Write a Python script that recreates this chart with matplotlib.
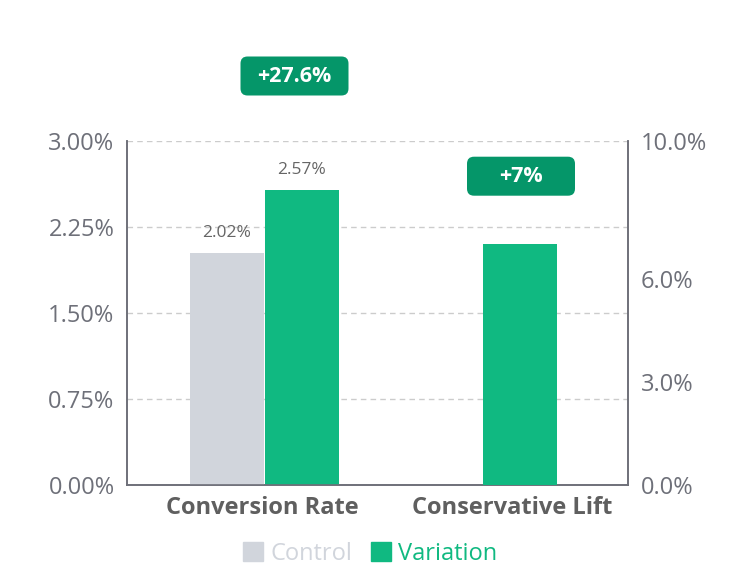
import numpy as np
import matplotlib.pyplot as plt
from matplotlib.patches import FancyBboxPatch, Patch

categories = ["Conversion Rate", "Conservative Lift"]
control = [2.02, 0.0]      # left axis, %
variation = [2.57, 0.0]    # left axis, %
lift = [0.0, 7.0]          # right axis, %
badges = ["+27.6%", "+7%"]
left_ticks = [0, 0.75, 1.5, 2.25, 3.0]
right_ticks = [0, 3, 6, 10]

c_control = "#D1D5DC"
c_var = "#10B981"
c_badge = "#059669"
c_axis = "#6E7079"

plt.rcParams["font.family"] = ["Open Sans", "DejaVu Sans"]

fig = plt.figure(figsize=(7.54, 5.78), dpi=100)
ax = fig.add_axes([127 / 754, 93 / 578, 501 / 754, 344 / 578])
ax2 = ax.twinx()

x = np.arange(len(categories))
w = 0.296
b1 = ax.bar(x - 0.14, control, w, color=c_control, zorder=3)
b2 = ax.bar(x + 0.16, variation, w, color=c_var, zorder=3)
b3 = ax2.bar(x + 0.032, lift, w, color=c_var, zorder=3)

ax.set_xlim(-0.54, 1.464)
ax.set_ylim(0, 3)
ax2.set_ylim(0, 10)

# value labels only on the conversion-rate bars
for bars in (b1, b2):
    r = bars[0]
    ax.annotate(f"{r.get_height():.2f}%", (r.get_x() + r.get_width() / 2, r.get_height()),
                xytext=(0, 9), textcoords="offset points", ha="center", va="bottom",
                fontsize=12.5, color="#666666")

ax.set_yticks(left_ticks)
ax.set_yticklabels([f"{t:.2f}%" for t in left_ticks], fontsize=17, color=c_axis)
ax2.set_yticks(right_ticks)
ax2.set_yticklabels([f"{t:.1f}%" for t in right_ticks], fontsize=17, color=c_axis)
ax.set_xticks(x)
ax.set_xticklabels(categories, fontsize=17, fontweight="bold", color="#5f5f5f")
ax.tick_params(axis="y", length=0, pad=9)
ax2.tick_params(axis="y", length=0, pad=9)
ax.tick_params(axis="x", length=0, pad=8)

ax.grid(axis="y", linestyle=(0, (4, 3)), color="#CCCCCC", linewidth=1, zorder=0)
for a in (ax, ax2):
    a.spines["top"].set_visible(False)
    for s in ("left", "right", "bottom"):
        a.spines[s].set_color(c_axis)
        a.spines[s].set_linewidth(1.2)


def badge(xd, yd, text):
    # xd, yd in display pixels
    bw, bh = 108, 39
    px = fig.dpi_scale_trans
    box = FancyBboxPatch(((xd - bw / 2) / fig.dpi, (yd - bh / 2) / fig.dpi), bw / fig.dpi, bh / fig.dpi,
                         boxstyle="round,pad=0,rounding_size=0.07", transform=px,
                         facecolor=c_badge, edgecolor="none")
    fig.add_artist(box)
    fig.text(xd / fig.dpi, yd / fig.dpi, text, transform=px, ha="center", va="center",
             fontsize=15.5, fontweight="bold", color="white")


x1, _ = ax.transData.transform((x[0] + 0.13, 0))
_, y1 = ax.transAxes.transform((0, 1))
badge(x1, y1 + 65, badges[0])
x2, y2 = ax2.transData.transform((x[1] + 0.036, lift[1]))
badge(x2, y2 + 68, badges[1])

handles = [Patch(color=c_control), Patch(color=c_var)]
leg = fig.legend(handles, ["Control", "Variation"], loc="center", bbox_to_anchor=(370 / 754, 1 - 554 / 578),
                 ncol=2, frameon=False, fontsize=17, handlelength=0.85, handleheight=0.85,
                 handletextpad=0.3, columnspacing=0.8)
for t, c in zip(leg.get_texts(), [c_control, c_var]):
    t.set_color(c)

fig.savefig("out.png", dpi=100)
